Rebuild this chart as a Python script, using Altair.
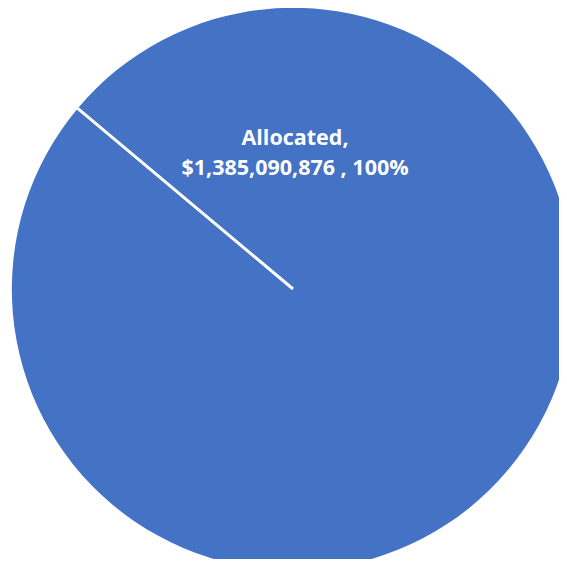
import math
import altair as alt
import pandas as pd

categories = ["Allocated", "Unallocated"]
amounts = [1385090876, 0]
shares = [100, 0]

slice_color = "#4472C4"
start_angle = -0.873  # radians, position of slice boundary (upper-left)

df = pd.DataFrame({"category": categories, "amount": amounts, "share": shares})
df["label"] = [
    [f"{c},", f"${a:,} , {s}%"] for c, a, s in zip(categories, amounts, shares)
]

base = alt.Chart(df)

pie = base.mark_arc(radius=281, color=slice_color, stroke="white").encode(
    theta=alt.Theta(
        "amount:Q",
        stack=True,
        scale=alt.Scale(range=[start_angle, start_angle + 2 * math.pi]),
    ),
    detail="category:N",
    order=alt.Order("category:N"),
    strokeWidth=alt.condition(
        alt.datum.category == "Unallocated", alt.value(3), alt.value(0)
    ),
    x=alt.value(285),
    y=alt.value(281),
)

labels = (
    base.transform_filter(alt.datum.category == "Allocated")
    .mark_text(
        font="Open Sans",
        fontWeight="bold",
        fontSize=21.5,
        color="white",
        align="center",
        baseline="alphabetic",
        lineHeight=30,
    )
    .encode(text="label", x=alt.value(287), y=alt.value(137))
)

chart = (
    alt.layer(pie, labels)
    .properties(width=551, height=551, padding=0, autosize=alt.AutoSizeParams(type="none"))
    .configure_view(stroke=None)
)

chart.save("out.html", embed_options={"renderer": "svg", "actions": False})
